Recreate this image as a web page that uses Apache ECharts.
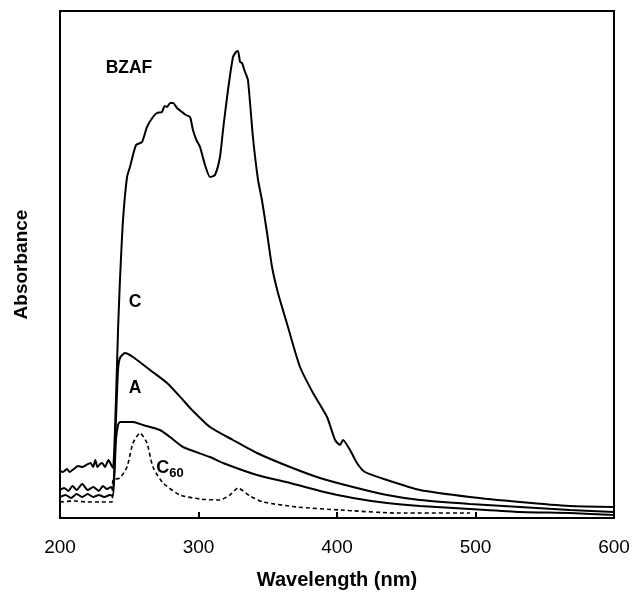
<!DOCTYPE html>
<html>
<head>
<meta charset="utf-8">
<title>Absorbance spectra</title>
<script src="https://cdn.jsdelivr.net/npm/echarts@6/dist/echarts.min.js"></script>
<style>
  html, body { margin: 0; padding: 0; background: #fff; }
  #chart { width: 633px; height: 592px; }
</style>
</head>
<body>
<div id="chart"></div>
<script>
// wavelength (nm), absorbance (arbitrary units)
var bzaf = [
  [200, 47], [202, 46], [205, 49], [207, 46], [210, 49], [213, 52], [216, 51],
  [219, 53], [222, 55], [224, 51], [225.5, 58], [227, 51], [229, 54], [230.5, 55],
  [232.5, 51], [235, 58], [237, 53], [238.3, 50],
  [240.4, 118], [241.9, 188], [243.3, 238], [245.5, 298], [248.4, 341], [250.5, 351],
  [254.9, 373], [259.2, 376], [262.8, 391], [267.1, 401], [270, 405], [273.6, 406],
  [275.5, 412], [277.3, 411], [279.5, 415], [281.6, 415], [284.5, 410], [288.1, 406],
  [291, 403], [293.9, 401], [296, 388], [298.5, 378], [301.1, 371], [304.7, 353],
  [308.3, 341], [311.9, 343], [315.5, 361], [317.7, 388], [321.3, 428], [324.9, 461],
  [327.1, 466], [328.5, 467], [330, 456], [331.4, 455], [333.6, 446], [335.7, 438],
  [339.3, 381], [343, 338], [345.8, 318], [349.5, 285], [353.1, 251], [357.4, 225],
  [364.6, 191], [373.3, 151], [382.7, 125], [392.8, 101], [398.6, 78], [402.2, 73],
  [404.3, 78], [409.4, 68], [414.4, 55], [420.2, 46], [436.1, 38], [459.9, 28],
  [496, 21], [532.1, 16], [568.2, 12], [600, 11]
];
var curveC = [
  [200, 28], [203, 30], [206, 27], [209, 32], [212, 28], [216, 34], [220, 28],
  [224, 31], [228, 27], [231, 32], [234, 29], [237, 31], [238.3, 28],
  [240.4, 98], [241.9, 148], [243.3, 160], [246.9, 165], [252.7, 161], [265, 148],
  [277.3, 135], [288.8, 118], [293.9, 110], [308.3, 91], [324.9, 78], [342.2, 65],
  [366.1, 51], [387.7, 40], [411.5, 31], [436.1, 23], [459.9, 18], [496, 14],
  [532.1, 11], [568.2, 8], [600, 6]
];
var curveA = [
  [200, 21], [204, 23], [208, 20], [212, 24], [216, 21], [220, 24], [224, 21],
  [228, 23], [232, 21], [236, 23], [238.3, 22],
  [240.4, 78], [241.9, 93], [243.3, 96], [252.7, 96], [259.9, 93], [272.2, 88],
  [279.4, 81], [288.8, 71], [308.3, 61], [317.7, 55], [342.2, 43], [366.1, 35],
  [387.7, 27], [411.5, 20], [436.1, 15], [459.9, 12], [496, 9], [532.1, 6],
  [568.2, 5], [600, 3]
];
var c60 = [
  [200, 16], [210, 17], [220, 16], [230, 16], [237.5, 16],
  [238.3, 38], [243.3, 40], [248.4, 51], [252.7, 75], [257.8, 85], [262.8, 75],
  [267.1, 51], [274.4, 35], [286.6, 23], [301.1, 19], [315.5, 18], [322.7, 23],
  [328.5, 30], [337.2, 22], [346.6, 16], [371.1, 11], [402.2, 8], [443.3, 5],
  [496, 5]
];
var xTicks = [200, 300, 400, 500, 600];

// curve labels, anchored in data coordinates
var labels = [
  { text: 'BZAF', at: [249.8, 450] },
  { text: 'C', at: [254.2, 216] },
  { text: 'A', at: [254.2, 130] }
];
var c60Label = [269.5, 50];

var font = '"Liberation Sans", Arial, sans-serif';

function lineSeries(name, data, dashed) {
  return {
    name: name,
    type: 'line',
    data: data,
    showSymbol: false,
    smooth: 0.2,
    lineStyle: {
      color: '#000',
      width: dashed ? 1.6 : 2,
      type: dashed ? [4, 3] : 'solid'
    },
    silent: true,
    animation: false
  };
}

var chart = echarts.init(document.getElementById('chart'));
var option = {
  backgroundColor: '#fff',
  animation: false,
  grid: {
    left: 60, right: 19, top: 11, bottom: 74,
    outerBoundsMode: 'none',
    show: true, borderColor: '#000', borderWidth: 2
  },
  xAxis: {
    type: 'value',
    min: xTicks[0],
    max: xTicks[xTicks.length - 1],
    interval: 100,
    name: 'Wavelength (nm)',
    nameLocation: 'middle',
    nameGap: 52,
    nameTextStyle: { fontFamily: font, fontWeight: 'bold', fontSize: 20, color: '#000' },
    axisLine: { show: false },
    axisTick: { show: true, inside: true, length: 6, lineStyle: { color: '#000', width: 2 } },
    splitLine: { show: false },
    axisLabel: { fontFamily: font, fontSize: 19, color: '#000', margin: 20 }
  },
  yAxis: {
    type: 'value',
    min: 0,
    max: 507,
    name: 'Absorbance',
    nameLocation: 'middle',
    nameGap: 29,
    nameTextStyle: { fontFamily: font, fontWeight: 'bold', fontSize: 19, color: '#000' },
    axisLine: { show: false },
    axisTick: { show: false },
    axisLabel: { show: false },
    splitLine: { show: false }
  },
  series: [
    lineSeries('BZAF', bzaf, false),
    lineSeries('C', curveC, false),
    lineSeries('A', curveA, false),
    lineSeries('C60', c60, true)
  ]
};
chart.setOption(option);

// place text labels from data coordinates
var graphics = labels.map(function (l) {
  var p = chart.convertToPixel({ gridIndex: 0 }, l.at);
  return {
    type: 'text',
    x: p[0], y: p[1],
    style: {
      text: l.text, fontFamily: font, fontWeight: 'bold', fontSize: 17.5,
      fill: '#000', align: 'center', verticalAlign: 'middle'
    }
  };
});
var pc = chart.convertToPixel({ gridIndex: 0 }, c60Label);
graphics.push({
  type: 'text',
  x: pc[0], y: pc[1],
  style: {
    text: '{b|C}{s|60}',
    fontFamily: font,
    fill: '#000',
    align: 'left',
    verticalAlign: 'middle',
    rich: {
      b: { fontFamily: font, fontWeight: 'bold', fontSize: 18, fill: '#000' },
      s: { fontFamily: font, fontWeight: 'bold', fontSize: 13, fill: '#000', padding: [10, 0, 0, 0] }
    }
  }
});
chart.setOption({ graphic: graphics });
</script>
</body>
</html>
